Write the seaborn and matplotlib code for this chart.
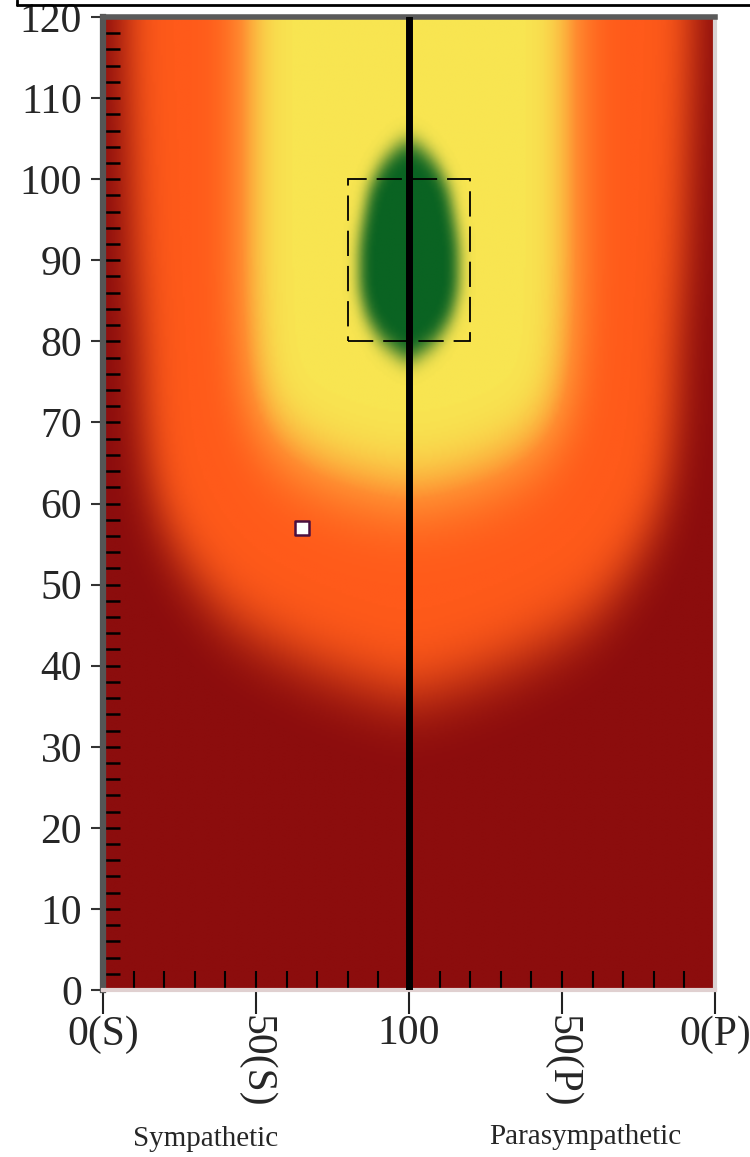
import numpy as np
import matplotlib
matplotlib.use('Agg')
import matplotlib.pyplot as plt
import seaborn as sns
from matplotlib.colors import LinearSegmentedColormap
from matplotlib.patches import Rectangle
from matplotlib.lines import Line2D
from matplotlib.ticker import MultipleLocator

# x-Achse intern 0..200: links Sympathikus, rechts Parasympathikus
tick_pos = [0, 50, 100, 150, 200]
tick_labels = ['0(S)', '50(S)', '100', '50(P)', '0(P)']
y_ticks = list(range(0, 121, 10))

# halbe Breite der Farbbaender um x=100, je Hoehe
orange_y = [0, 30, 36, 38, 40, 43, 46, 52, 57, 61, 70, 80, 90, 100, 110, 120]
orange_w = [-30, -25, 0, 18, 32, 48, 60, 73, 80, 84, 87, 88, 90, 91, 92, 93]
yellow_y = [0, 58, 60, 62, 64, 67, 72, 80, 90, 100, 110, 120]
yellow_w = [-30, -15, 0, 22, 34, 45, 52, 54, 55, 55, 55, 55]
green_y = [0, 76, 78, 80, 83, 87, 91, 95, 99, 102, 104, 106, 120]
green_w = [-20, -8, 2, 9, 14, 16.5, 16.5, 15, 13, 9, 4, -4, -20]

center_x = 100
box_x = [80, 120]
box_y = [80, 100]
marker_x = [65]
marker_y = [57]

# Farbstufen: dunkelrot, orangerot, hellorange, gelb, gruen
color_pos = [0.0, 1 / 3, 0.5, 2 / 3, 1.0]
colors = ['#8C0D0D', '#FF5A1A', '#FF8C30', '#F8E551', '#0A6322']


def blur(mask, sx, sy):
    # separierbarer Gauss-Filter (sx, sy in Zellen)
    out = mask
    for axis, s in ((1, sx), (0, sy)):
        r = int(3 * s) + 1
        k = np.exp(-0.5 * (np.arange(-r, r + 1) / s) ** 2)
        k /= k.sum()
        pad = [(0, 0), (0, 0)]
        pad[axis] = (r, r)
        p = np.pad(out, pad, mode='edge')
        out = np.apply_along_axis(lambda v: np.convolve(v, k, mode='valid'), axis, p)
    return out


dx, dy = 0.5, 0.25
xs = np.arange(0, 200 + dx, dx)
ys = np.arange(0, 120 + dy, dy)
field = np.zeros((len(ys), len(xs)))
for by, bw, sx, sy in ((orange_y, orange_w, 6.0, 4.0),
                       (yellow_y, yellow_w, 7.0, 4.5),
                       (green_y, green_w, 2.2, 1.3)):
    w = np.interp(ys, by, bw)
    mask = (np.abs(xs[None, :] - center_x) < w[:, None]).astype(float)
    field += blur(mask, sx / dx, sy / dy)

sns.set_style('ticks')
plt.rcParams['font.family'] = ['Liberation Serif', 'DejaVu Serif']

fig = plt.figure(figsize=(7.5, 11.57), dpi=100)
ax = fig.add_axes([103 / 750, 1 - 990 / 1157, (715 - 103) / 750, (990 - 17) / 1157])

cmap = LinearSegmentedColormap.from_list('hrv', list(zip(color_pos, colors)))
ax.imshow(field, extent=(0, 200, 0, 120), origin='lower', aspect='auto',
          cmap=cmap, vmin=0, vmax=3, interpolation='bilinear', zorder=0)

ax.axvline(center_x, color='black', lw=5, zorder=3)
ax.add_patch(Rectangle((box_x[0], box_y[0]), box_x[1] - box_x[0], box_y[1] - box_y[0],
                       fill=False, ec='black', lw=1.3, ls=(0, (14, 5.5)), zorder=4))
sns.scatterplot(x=marker_x, y=marker_y, marker='s', s=110, color='white',
                edgecolor='#4a1040', linewidth=1.8, zorder=5, ax=ax, legend=False)

ax.set_xlim(0, 200)
ax.set_ylim(0, 120)
ax.set_xticks(tick_pos)
ax.set_xticklabels(tick_labels)
ax.set_yticks(y_ticks)
ax.xaxis.set_minor_locator(MultipleLocator(10))
ax.yaxis.set_minor_locator(MultipleLocator(2))
ax.xaxis.remove_overlapping_locs = False
ax.yaxis.remove_overlapping_locs = False

ax.tick_params(axis='y', which='major', direction='out', length=9, width=1.5,
               color='#333333', labelsize=30, pad=6)
ax.tick_params(axis='y', which='minor', direction='in', length=12, width=1.8, color='black')
ax.tick_params(axis='x', which='major', direction='out', length=17, width=1.5,
               color='#222222', labelsize=30, pad=1)
ax.tick_params(axis='x', which='minor', direction='in', length=14, width=1.5, color='black')

for i in (1, 3):
    lbl = ax.get_xticklabels()[i]
    lbl.set_rotation(-90)
    lbl.set_va('top')

ax.spines['left'].set_color('#555555')
ax.spines['left'].set_linewidth(4.5)
ax.spines['top'].set_color('#5a5a5a')
ax.spines['top'].set_linewidth(4)
ax.spines['right'].set_color('#d9d2d2')
ax.spines['right'].set_linewidth(3)
ax.spines['bottom'].set_color('#e0d0d0')
ax.spines['bottom'].set_linewidth(3)
for s in ax.spines.values():
    s.set_visible(True)

fig.text(206 / 750, 1 - 1139 / 1157, 'Sympathetic', ha='center', va='center', fontsize=21)
fig.text(585 / 750, 1 - 1137 / 1157, 'Parasympathetic', ha='center', va='center', fontsize=21)

# Rahmenlinie oben (abgeschnittener Kasten)
fig.add_artist(Line2D([17 / 750, 1], [1 - 5 / 1157, 1 - 5 / 1157], color='black', lw=2,
                      transform=fig.transFigure))
fig.add_artist(Line2D([17 / 750, 17 / 750], [1 - 5 / 1157, 1], color='black', lw=2,
                      transform=fig.transFigure))

fig.savefig('out.png', dpi=100)
